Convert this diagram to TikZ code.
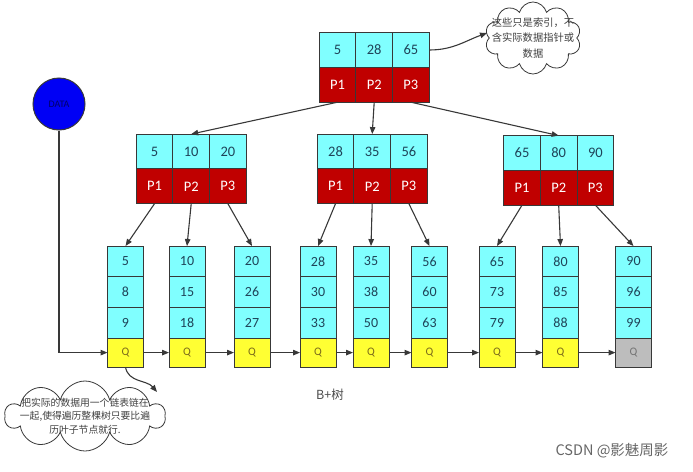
\documentclass[tikz,border=0pt]{standalone}
\usepackage{fontspec}
\setmainfont{Carlito}
\newfontfamily\cjk{Noto Sans CJK SC}
\usetikzlibrary{arrows.meta,shapes.symbols}
\definecolor{keycyan}{HTML}{80FFFF}
\definecolor{ptrred}{HTML}{C00000}
\definecolor{qyellow}{HTML}{FFFF33}
\definecolor{qgray}{HTML}{BDBDBD}
\definecolor{linegray}{HTML}{383838}
\definecolor{keytext}{HTML}{1F4459}
\definecolor{qtext}{HTML}{7A6A1A}
\definecolor{datablue}{HTML}{0000F5}
\begin{document}
\begin{tikzpicture}[
  x=1pt, y=-1pt,
  keybox/.style={draw=linegray, line width=1pt, fill=keycyan, minimum width=36.7pt, minimum height=34.8pt, inner sep=0pt, outer sep=0pt, text=keytext, font=\fontsize{14.5}{16}\selectfont},
  ptrbox/.style={keybox, fill=ptrred, text=white},
  leafbox/.style={keybox, minimum width=36pt, minimum height=30.7pt, font=\fontsize{14}{16}\selectfont},
  qbox/.style={leafbox, minimum height=29pt, fill=qyellow, text=qtext, font=\fontsize{11.5}{13}\selectfont},
  arrow/.style={-{Triangle[length=7pt,width=5.5pt]}, draw=linegray, line width=1.1pt},
  note/.style={cloud, cloud puffs=10, cloud ignores aspect, draw=linegray, line width=0.8pt, fill=white}
]
\useasboundingbox (0,0) rectangle (693,471);

\node[keybox] (rk1) at (337.5,50) {5};
\node[keybox] (rk2) at (374.2,50) {28};
\node[keybox] (rk3) at (410.9,50) {65};
\node[ptrbox] (rp1) at (337.5,84.8) {P1};
\node[ptrbox] (rp2) at (374.2,84.8) {P2};
\node[ptrbox] (rp3) at (410.9,84.8) {P3};

\node[keybox] (lk1) at (154.5,151.5) {5};
\node[keybox] (lk2) at (191.2,151.5) {10};
\node[keybox] (lk3) at (227.9,151.5) {20};
\node[ptrbox] (lp1) at (154.5,186.3) {P1};
\node[ptrbox] (lp2) at (191.2,186.3) {P2};
\node[ptrbox] (lp3) at (227.9,186.3) {P3};

\node[keybox] (mk1) at (335.5,151.5) {28};
\node[keybox] (mk2) at (372.2,151.5) {35};
\node[keybox] (mk3) at (408.9,151.5) {56};
\node[ptrbox] (mp1) at (335.5,186.3) {P1};
\node[ptrbox] (mp2) at (372.2,186.3) {P2};
\node[ptrbox] (mp3) at (408.9,186.3) {P3};

\node[keybox] (nk1) at (522,153) {65};
\node[keybox] (nk2) at (558.7,153) {80};
\node[keybox] (nk3) at (595.4,153) {90};
\node[ptrbox] (np1) at (522,187.8) {P1};
\node[ptrbox] (np2) at (558.7,187.8) {P2};
\node[ptrbox] (np3) at (595.4,187.8) {P3};

\node[leafbox] (l1a) at (125.5,261.4) {5};
\node[leafbox] (l1b) at (125.5,292.1) {8};
\node[leafbox] (l1c) at (125.5,322.8) {9};
\node[qbox] (l1q) at (125.5,352.6) {Q};
\node[leafbox] (l2a) at (187,261.4) {10};
\node[leafbox] (l2b) at (187,292.1) {15};
\node[leafbox] (l2c) at (187,322.8) {18};
\node[qbox] (l2q) at (187,352.6) {Q};
\node[leafbox] (l3a) at (252,261.4) {20};
\node[leafbox] (l3b) at (252,292.1) {26};
\node[leafbox] (l3c) at (252,322.8) {27};
\node[qbox] (l3q) at (252,352.6) {Q};
\node[leafbox] (l4a) at (318,261.4) {28};
\node[leafbox] (l4b) at (318,292.1) {30};
\node[leafbox] (l4c) at (318,322.8) {33};
\node[qbox] (l4q) at (318,352.6) {Q};
\node[leafbox] (l5a) at (371,261.4) {35};
\node[leafbox] (l5b) at (371,292.1) {38};
\node[leafbox] (l5c) at (371,322.8) {50};
\node[qbox] (l5q) at (371,352.6) {Q};
\node[leafbox] (l6a) at (429.5,261.4) {56};
\node[leafbox] (l6b) at (429.5,292.1) {60};
\node[leafbox] (l6c) at (429.5,322.8) {63};
\node[qbox] (l6q) at (429.5,352.6) {Q};
\node[leafbox] (l7a) at (497,261.4) {65};
\node[leafbox] (l7b) at (497,292.1) {73};
\node[leafbox] (l7c) at (497,322.8) {79};
\node[qbox] (l7q) at (497,352.6) {Q};
\node[leafbox] (l8a) at (560.5,261.4) {80};
\node[leafbox] (l8b) at (560.5,292.1) {85};
\node[leafbox] (l8c) at (560.5,322.8) {88};
\node[qbox] (l8q) at (560.5,352.6) {Q};
\node[leafbox] (l9a) at (633.5,261.4) {90};
\node[leafbox] (l9b) at (633.5,292.1) {96};
\node[leafbox] (l9c) at (633.5,322.8) {99};
\node[qbox, fill=qgray, text=black!55] (l9q) at (633.5,352.6) {Q};

\node[circle, draw=linegray, line width=1pt, fill=datablue, minimum size=52pt, inner sep=0pt, text=blue!40!black, font=\fontsize{10}{12}\selectfont] (data) at (59,104) {DATA};

\node[note, minimum width=96pt, minimum height=72pt, label={[align=center, text=black!75, font=\cjk\fontsize{10.3}{15.5}\selectfont]center:这些只是索引，不\\含实际数据指针或\\数据}] (note1) at (533,38) {};
\node[note, minimum width=160pt, minimum height=70pt, label={[align=center, text=black!75, font=\cjk\fontsize{9.8}{13.3}\selectfont]center:把实际的数据用一个链表链在\\一起,使得遍历整棵树只要比遍\\历叶子节点就行.}] (note2) at (85,416) {};
\coordinate (tip1) at (487,33);
\coordinate (tip2) at (157,392);

\node[font=\cjk\fontsize{12.5}{14}\selectfont, text=black!70] (title) at (330,395) {B+树};
\node[font=\cjk\fontsize{14.5}{16}\selectfont, text=black!60] (mark) at (612,451) {CSDN @影魅周影};

\draw[arrow] (rp1.south) -- (lk2.north);
\draw[arrow] (rp2.south) -- (mk2.north);
\draw[arrow] (rp3.south) -- (nk2.north);

\draw[arrow] (lp1.south) -- (l1a.north);
\draw[arrow] (lp2.south) -- (l2a.north);
\draw[arrow] (lp3.south) -- (l3a.north);
\draw[arrow] (mp1.south) -- (l4a.north);
\draw[arrow] (mp2.south) -- (l5a.north);
\draw[arrow] (mp3.south) -- (l6a.north);
\draw[arrow] (np1.south) -- (l7a.north);
\draw[arrow] (np2.south) -- (l8a.north);
\draw[arrow] (np3.south) -- (l9a.north);

\draw[arrow] (data.south) |- (l1q.west);
\draw[arrow] (l1q) -- (l2q);
\draw[arrow] (l2q) -- (l3q);
\draw[arrow] (l3q) -- (l4q);
\draw[arrow] (l4q) -- (l5q);
\draw[arrow] (l5q) -- (l6q);
\draw[arrow] (l6q) -- (l7q);
\draw[arrow] (l7q) -- (l8q);
\draw[arrow] (l8q) -- (l9q);

\draw[arrow] (rk3.east) to[out=0, in=200] (tip1);
\draw[arrow] (l1q.south) to[out=-80, in=130] (tip2);
\end{tikzpicture}
\end{document}
